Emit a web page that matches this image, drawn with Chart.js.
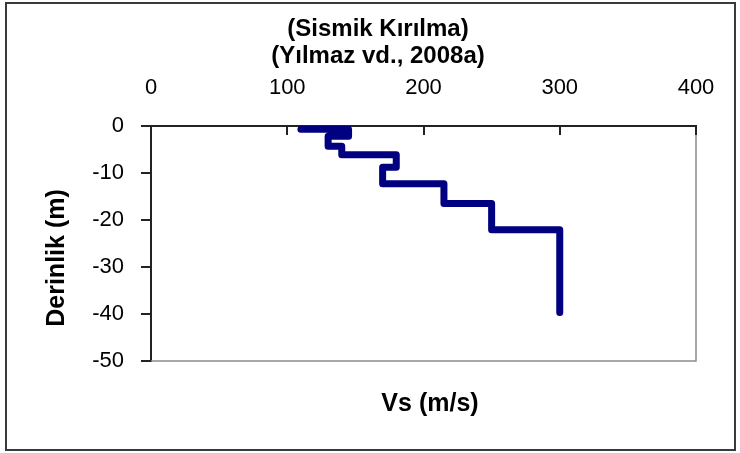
<!DOCTYPE html>
<html>
<head>
<meta charset="utf-8">
<script src="https://cdn.jsdelivr.net/npm/chart.js"></script>
<style>
    html, body { margin: 0; padding: 0; background: #fff; }
    #wrap { position: relative; width: 740px; height: 453px; }
    #frame {
        position: absolute; left: 5px; top: 2px; width: 731px; height: 449px;
        box-sizing: border-box; border: 2px solid #3a3a3a; pointer-events: none;
    }
</style>
</head>
<body>
<div id="wrap">
    <canvas id="vsChart" width="740" height="453"></canvas>
    <div id="frame"></div>
</div>
<script>
// Vs profile (step function): velocity and depth of each corner
const vsValues = [110, 145, 145, 130, 130, 140, 140, 180, 180, 170, 170, 215, 215, 250, 250, 300, 300];
const depthValues = [-0.7, -0.7, -2.2, -2.2, -4.3, -4.3, -6.1, -6.1, -8.8, -8.8, -12.3, -12.3, -16.5, -16.5, -22.1, -22.1, -39.7];

const xTicks = [0, 100, 200, 300, 400];
const yTicks = [0, -10, -20, -30, -40, -50];

const titleLines = ['(Sismik Kırılma)', '(Yılmaz vd., 2008a)'];
const xTitle = 'Vs (m/s)';
const yTitle = 'Derinlik (m)';

const FONT = '"Liberation Sans", Arial, sans-serif';

const points = vsValues.map((v, i) => ({ x: v, y: depthValues[i] }));

// gray plot border on the right and bottom, inward ticks on the top axis
const plotDecor = {
    id: 'plotDecor',
    beforeDatasetsDraw(chart) {
        const { ctx, chartArea: a } = chart;
        ctx.save();
        ctx.strokeStyle = '#8c8c8c';
        ctx.lineWidth = 1.5;
        ctx.beginPath();
        ctx.moveTo(a.left, a.bottom);
        ctx.lineTo(a.right, a.bottom);
        ctx.lineTo(a.right, a.top);
        ctx.stroke();
        ctx.restore();
    },
    afterDatasetsDraw(chart) {
        const { ctx, chartArea: a, scales } = chart;
        ctx.save();
        ctx.strokeStyle = '#222';
        ctx.lineWidth = 2;
        ctx.beginPath();
        xTicks.forEach(t => {
            if (t === 0) return;
            const px = Math.round(scales.x.getPixelForValue(t));
            ctx.moveTo(px, a.top);
            ctx.lineTo(px, a.top + 9);
        });
        ctx.stroke();
        ctx.restore();
    }
};

// titles drawn by hand: the x title sits below the plot while the axis is on top
const chartTexts = {
    id: 'chartTexts',
    afterDraw(chart) {
        const ctx = chart.ctx;
        ctx.save();
        ctx.fillStyle = '#000';
        ctx.textAlign = 'center';
        ctx.textBaseline = 'alphabetic';
        ctx.font = 'bold 24px ' + FONT;
        ctx.fillText(titleLines[0], 378, 36);
        ctx.fillText(titleLines[1], 378, 63);

        ctx.font = 'bold 25px ' + FONT;
        ctx.fillText(xTitle, 430, 411);

        ctx.translate(64, 258);
        ctx.rotate(-Math.PI / 2);
        ctx.fillText(yTitle, 0, 0);
        ctx.restore();
    }
};

new Chart(document.getElementById('vsChart'), {
    type: 'scatter',
    data: {
        datasets: [{
            data: points,
            showLine: true,
            borderColor: '#000080',
            backgroundColor: '#000080',
            borderWidth: 7,
            borderJoinStyle: 'round',
            borderCapStyle: 'round',
            pointRadius: 0,
            tension: 0
        }]
    },
    options: {
        responsive: false,
        animation: false,
        devicePixelRatio: 1,
        layout: { padding: { top: 60, right: 44, bottom: 92, left: 0 } },
        plugins: {
            legend: { display: false },
            tooltip: { enabled: false },
            title: { display: false }
        },
        scales: {
            x: {
                type: 'linear',
                position: 'top',
                min: 0,
                max: 400,
                afterBuildTicks(scale) { scale.ticks = xTicks.map(v => ({ value: v })); },
                afterFit(scale) { scale.height = 66; },
                ticks: {
                    color: '#000',
                    font: { family: FONT, size: 22 },
                    padding: 25,
                    maxRotation: 0
                },
                grid: { display: true, drawOnChartArea: false, drawTicks: false },
                border: { display: true, color: '#222', width: 2 }
            },
            y: {
                type: 'linear',
                min: -50,
                max: 0,
                afterBuildTicks(scale) { scale.ticks = yTicks.map(v => ({ value: v })); },
                afterFit(scale) { scale.width = 151; },
                ticks: {
                    color: '#000',
                    font: { family: FONT, size: 22 },
                    padding: 17
                },
                grid: { drawOnChartArea: false, drawTicks: true, tickLength: 10, color: '#222', lineWidth: 2 },
                border: { display: true, color: '#222', width: 2 }
            }
        }
    },
    plugins: [plotDecor, chartTexts]
});
</script>
</body>
</html>
